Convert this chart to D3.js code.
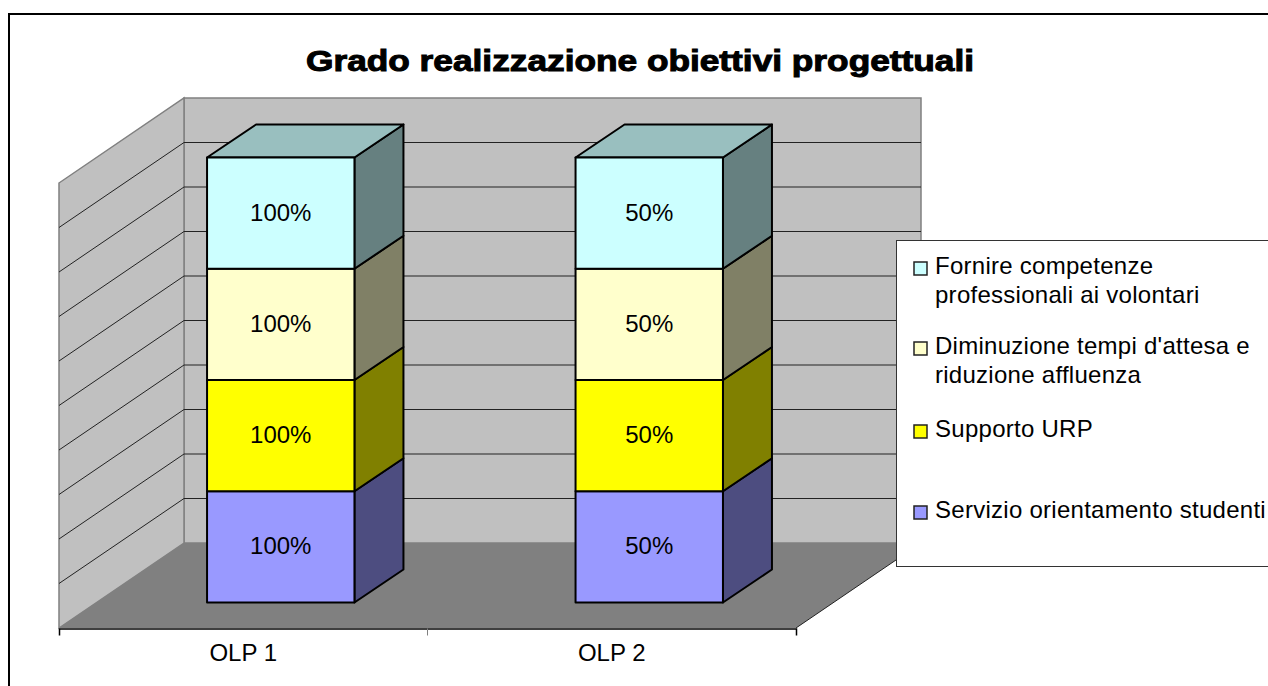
<!DOCTYPE html>
<html>
<head>
<meta charset="utf-8">
<script src="https://cdn.jsdelivr.net/npm/d3@7"></script>
<style>
	html, body { margin: 0; padding: 0; background: #fff; overflow: hidden; }
	svg { display: block; }
	text { font-family: "Liberation Sans", Arial, sans-serif; fill: #000; }
</style>
</head>
<body>
<script>
var title = "Grado realizzazione obiettivi progettuali";
var categories = ["OLP 1", "OLP 2"];
var seriesNames = ["Servizio orientamento studenti", "Supporto URP", "Diminuzione tempi d'attesa e riduzione affluenza", "Fornire competenze professionali ai volontari"];
var olp1Values = [100, 100, 100, 100];
var olp2Values = [50, 50, 50, 50];
var seriesColors = ["#9999ff", "#ffff00", "#ffffcc", "#ccffff"];
var gridTicks = [0, 0.1, 0.2, 0.3, 0.4, 0.5, 0.6, 0.7, 0.8, 0.9, 1];
var legendLines = [
	["Fornire competenze", "professionali ai volontari"],
	["Diminuzione tempi d'attesa e", "riduzione affluenza"],
	["Supporto URP"],
	["Servizio orientamento studenti"]
];

var width = 1268, height = 686;

// Oblique projection used by the fake 3d box
var plot = { left: 59, right: 796, front: 628, top: 183 };
var depth = { x: 125, y: 85 };
var barDepth = { x: 49, y: 33 };
var barShift = { x: 37.5, y: 25.5 };

var svg = d3.select("body").append("svg")
	.attr("width", width)
	.attr("height", height);

// Chart frame runs off the right and bottom of the picture
svg.append("path")
	.attr("d", "M9,686V14H1268")
	.attr("fill", "none")
	.attr("stroke", "#000")
	.attr("stroke-width", 2);

svg.append("text")
	.attr("x", 640)
	.attr("y", 71)
	.attr("text-anchor", "middle")
	.attr("font-size", 29)
	.attr("font-weight", "bold")
	.attr("textLength", 668)
	.attr("lengthAdjust", "spacingAndGlyphs")
	.style("stroke", "#000")
	.style("stroke-width", 1)
	.text(title);

// Scales
var x = d3.scaleBand()
	.domain(categories)
	.range([plot.left, plot.right]);

var xBar = d3.scaleBand()
	.domain(categories)
	.range([plot.left + barShift.x, plot.right + barShift.x])
	.paddingInner(0.6)
	.paddingOuter(0.3);

var y = d3.scaleLinear()
	.domain([0, 1])
	.range([plot.front, plot.top]);

// Bars stand a little behind the front edge of the floor
function yBar(v) { return y(v) - barShift.y; }

function poly(points) {
	return d3.line()(points) + "Z";
}

// Back wall
svg.append("path")
	.attr("d", poly([
		[plot.left + depth.x, y(1) - depth.y],
		[plot.right + depth.x, y(1) - depth.y],
		[plot.right + depth.x, y(0) - depth.y],
		[plot.left + depth.x, y(0) - depth.y]
	]))
	.attr("fill", "#c0c0c0")
	.attr("stroke", "#808080")
	.attr("stroke-width", 1.5);

// Left wall
svg.append("path")
	.attr("d", poly([
		[plot.left, y(1)],
		[plot.left + depth.x, y(1) - depth.y],
		[plot.left + depth.x, y(0) - depth.y],
		[plot.left, y(0)]
	]))
	.attr("fill", "#c0c0c0")
	.attr("stroke", "#808080")
	.attr("stroke-width", 1.5);

// Floor
svg.append("path")
	.attr("d", poly([
		[plot.left, y(0)],
		[plot.left + depth.x, y(0) - depth.y],
		[plot.right + depth.x, y(0) - depth.y],
		[plot.right, y(0)]
	]))
	.attr("fill", "#808080");

svg.append("line")
	.attr("x1", plot.right)
	.attr("y1", y(0))
	.attr("x2", plot.right + depth.x)
	.attr("y2", y(0) - depth.y)
	.attr("stroke", "#222")
	.attr("stroke-width", 1);

// Gridlines, bent round the corner of the walls
svg.selectAll("path.grid")
	.data(gridTicks.slice(1, -1))
	.enter()
	.append("path")
	.attr("class", "grid")
	.attr("d", function(d) {
		return d3.line()([
			[plot.left, y(d)],
			[plot.left + depth.x, y(d) - depth.y],
			[plot.right + depth.x, y(d) - depth.y]
		]);
	})
	.attr("fill", "none")
	.attr("stroke", "#222")
	.attr("stroke-width", 1);

// Category axis
var axis = svg.append("g")
	.attr("transform", "translate(0," + (y(0) + 0.5) + ")")
	.call(d3.axisBottom(x).tickSize(0).tickSizeOuter(7).tickPadding(15));
axis.select(".domain").attr("stroke", "#000").attr("stroke-width", 1.5);
axis.selectAll("text")
	.attr("font-family", "Liberation Sans")
	.attr("font-size", 24)
	.attr("fill", "#000");
axis.append("line")
	.attr("x1", plot.left + x.step())
	.attr("x2", plot.left + x.step())
	.attr("y2", 7)
	.attr("stroke", "#808080");

// Stacks, every column scaled to 100%
var rows = categories.map(function(c, i) {
	var row = { category: c };
	seriesNames.forEach(function(s, j) {
		row[s] = (i === 0 ? olp1Values : olp2Values)[j];
	});
	return row;
});

var stacked = d3.stack()
	.keys(seriesNames)
	.offset(d3.stackOffsetExpand)(rows);

var shade = function(color, k) {
	var c = d3.rgb(color);
	return d3.rgb(c.r * k, c.g * k, c.b * k).formatHex();
};

var layers = svg.selectAll("g.layer")
	.data(stacked)
	.enter()
	.append("g")
	.attr("class", "layer")
	.attr("stroke", "#000")
	.attr("stroke-width", 2)
	.attr("stroke-linejoin", "round");

var segments = layers.selectAll("g")
	.data(function(layer, i) {
		return layer.map(function(d) {
			return { x0: xBar(d.data.category), x1: xBar(d.data.category) + xBar.bandwidth(), y0: yBar(d[0]), y1: yBar(d[1]), color: seriesColors[i], value: d.data[layer.key], isTop: i === stacked.length - 1 };
		});
	})
	.enter()
	.append("g");

segments.append("path")
	.attr("d", function(d) {
		return poly([[d.x1, d.y0], [d.x1 + barDepth.x, d.y0 - barDepth.y], [d.x1 + barDepth.x, d.y1 - barDepth.y], [d.x1, d.y1]]);
	})
	.attr("fill", function(d) { return shade(d.color, 0.5); });

segments.filter(function(d) { return d.isTop; })
	.append("path")
	.attr("d", function(d) {
		return poly([[d.x0, d.y1], [d.x0 + barDepth.x, d.y1 - barDepth.y], [d.x1 + barDepth.x, d.y1 - barDepth.y], [d.x1, d.y1]]);
	})
	.attr("fill", function(d) { return shade(d.color, 0.75); });

segments.append("rect")
	.attr("x", function(d) { return d.x0; })
	.attr("y", function(d) { return d.y1; })
	.attr("width", function(d) { return d.x1 - d.x0; })
	.attr("height", function(d) { return d.y0 - d.y1; })
	.attr("fill", function(d) { return d.color; });

segments.append("text")
	.attr("x", function(d) { return (d.x0 + d.x1) / 2; })
	.attr("y", function(d) { return (d.y0 + d.y1) / 2 + 7.5; })
	.attr("text-anchor", "middle")
	.attr("font-size", 24)
	.attr("stroke", "none")
	.text(function(d) { return d.value + "%"; });

// Legend, box also runs off the right edge
var legend = svg.append("g");

legend.append("rect")
	.attr("x", 896.5)
	.attr("y", 240.5)
	.attr("width", 400)
	.attr("height", 326)
	.attr("fill", "#fff")
	.attr("stroke", "#333")
	.attr("stroke-width", 1);

var legendY = [273, 353, 436, 517];
var legendColors = seriesColors.slice().reverse();

var items = legend.selectAll("g.item")
	.data(legendLines)
	.enter()
	.append("g")
	.attr("class", "item")
	.attr("transform", function(d, i) { return "translate(0," + legendY[i] + ")"; });

items.append("rect")
	.attr("x", 914)
	.attr("y", -11)
	.attr("width", 13)
	.attr("height", 13)
	.attr("fill", function(d, i) { return legendColors[i]; })
	.attr("stroke", "#222")
	.attr("stroke-width", 1.5);

items.selectAll("text")
	.data(function(d) { return d; })
	.enter()
	.append("text")
	.attr("x", 935)
	.attr("y", function(d, i) { return 1 + i * 28.5; })
	.attr("font-size", 24)
	.attr("letter-spacing", 0.27)
	.text(function(d) { return d; });
</script>
</body>
</html>
